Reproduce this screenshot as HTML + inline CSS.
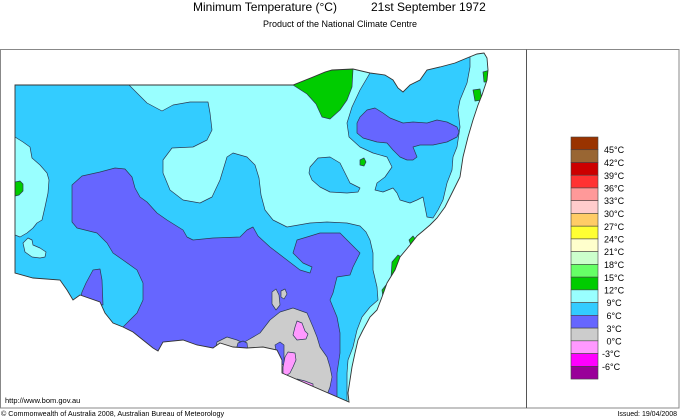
<!DOCTYPE html>
<html><head><meta charset="utf-8"><style>
html,body{margin:0;padding:0;background:#fff;}
svg{display:block;font-family:"Liberation Sans",Arial,sans-serif;}
</style></head><body>
<svg width="680" height="420" viewBox="0 0 680 420" xmlns="http://www.w3.org/2000/svg">
<defs>
<clipPath id="nsw">
<polygon id="o" points="15,85 293,85 303,81 313,77 325,72 332,70 353,69 370,73 385,75 393,80 398,88 403,92 410,85 420,80 427,70 440,67 455,63 467,58 477,54 484,53 487,58 488,70 487,80 482,95 478,105 473,120 468,137 463,157 460,177 452,193 445,207 437,218 430,225 423,231 417,236 410,245 400,257 395,270 387,283 382,297 377,310 370,317 363,330 358,340 355,353 352,367 350,380 348,393 349,402 282,373 282,360 277,350 263,347 247,348 233,347 220,343 213,348 197,345 183,340 163,342 158,351 153,348 143,340 133,332 123,327 113,323 105,313 100,302 80,295 73,300 67,290 60,280 33,278 15,273"/>
</clipPath>
</defs>
<!-- titles -->
<text x="193" y="11" font-size="12" fill="#000">Minimum Temperature (°C)</text>
<text x="371" y="11" font-size="12" fill="#000">21st September 1972</text>
<text x="340" y="27" font-size="9" text-anchor="middle" fill="#000">Product of the National Climate Centre</text>
<!-- frame -->
<rect x="0.5" y="49.5" width="678.5" height="358.5" fill="none" stroke="#888" stroke-width="1"/>
<line x1="526.5" y1="49.5" x2="526.5" y2="408" stroke="#555" stroke-width="1"/>
<!-- map -->
<g clip-path="url(#nsw)" stroke="#2b3b55" stroke-width="0.7" stroke-linejoin="round">
<rect x="0" y="40" width="520" height="380" fill="#33ccff" stroke="none"/>
<!-- west light cyan -->
<polygon fill="#99ffff" points="5,137 15,137 23,142 30,147 32,158 40,165 47,173 49,180 48,193 45,207 42,220 37,223 33,228 27,233 20,237 15,235 5,235"/>
<polygon fill="#99ffff" points="23,243 28,238 32,240 33,245 40,248 46,252 45,257 40,258 32,257 25,252"/>
<!-- central / eastern light cyan -->
<polygon fill="#99ffff" points="129,60 129,85 137,93 147,103 162,111 173,105 190,102 208,102 210,113 212,130 207,140 193,147 172,148 163,160 163,173 170,190 183,200 200,203 212,197 220,180 227,157 233,153 247,157 255,165 259,178 261,195 265,210 273,220 287,227 310,223 327,222 347,223 360,226 366,232 370,240 373,253 373,270 377,287 378,300 370,307 362,317 357,330 353,347 348,360 347,373 347,387 347,410 520,410 520,40 129,40"/>
<!-- NE cyan -->
<polygon fill="#33ccff" points="370,40 370,73 360,90 352,107 347,123 349,137 360,147 373,153 387,157 392,167 385,177 377,183 375,190 383,192 393,188 397,193 400,200 410,203 417,200 423,197 425,207 427,217 433,218 438,210 443,200 447,183 452,170 453,157 457,147 460,127 458,110 460,100 467,83 470,67 470,40"/>
<!-- central cyan island -->
<polygon fill="#33ccff" points="310,167 318,158 330,157 340,163 345,173 350,183 360,188 358,192 347,193 330,192 320,187 312,180 309,173"/>
<!-- NE purple -->
<polygon fill="#6666ff" points="357,123 360,117 367,110 375,108 383,113 390,118 403,123 413,122 427,123 437,120 447,122 457,127 459,132 457,137 447,142 433,145 420,145 413,147 417,157 413,160 407,160 400,157 393,150 387,143 377,142 363,138 357,133"/>
<!-- main purple -->
<polygon fill="#6666ff" points="72,185 82,176 100,172 115,168 125,169 132,177 135,188 140,197 147,202 157,213 167,220 183,230 187,237 193,240 213,238 240,237 247,230 253,227 258,236 270,247 287,260 300,270 310,273 312,267 303,263 293,253 297,240 307,237 320,233 340,233 350,243 360,253 353,267 350,275 337,277 333,293 330,300 337,317 340,333 340,353 337,373 337,415 120,365 123,327 137,313 143,300 143,283 137,270 123,260 113,253 107,243 97,233 77,228 72,222"/>
<polygon fill="#6666ff" points="80,300 82,292 86,283 93,270 100,269 102,280 103,305"/>
<!-- gray -->
<polygon fill="#cccccc" points="215,352 217,342 227,337 237,340 243,343 248,340 260,333 270,320 280,312 293,308 307,313 310,320 313,327 317,337 320,347 327,357 330,367 332,377 330,387 327,395 333,412 215,412"/>
<polygon fill="#cccccc" points="272,292 276,289 279,295 280,305 276,310 272,304"/>
<polygon fill="#cccccc" points="281,291 285,289 287,294 284,299 281,297"/>
<polygon fill="#6666ff" points="236,350 238,343 243,341 247,343 248,352"/>
<polygon fill="#6666ff" points="275,345 280,342 284,345 284,365 278,362"/>
<!-- pink -->
<polygon fill="#ff99ff" points="297,321 302,323 305,331 308,334 306,339 297,340 293,335 295,327"/>
<polygon fill="#ff99ff" points="288,352 295,353 296,360 293,367 290,373 283,378 283,367 285,357"/>
<polygon fill="#ff99ff" points="297,379 305,381 313,384 313,389 300,388"/>
<!-- green -->
<polygon fill="#00cc00" points="293,85 303,81 313,77 325,72 332,70 353,69 352,87 347,100 340,110 330,119 322,117 316,104 307,94"/>
<polygon fill="#00cc00" points="15,182 20,181 23,184 23,191 19,195 15,196"/>
<polygon fill="#00cc00" points="360,160 364,158 366,162 364,166 360,165"/>
<polygon fill="#00cc00" points="483,72 490,70 490,82 484,82"/>
<polygon fill="#00cc00" points="473,90 480,89 482,100 475,101"/>
<polygon fill="#00cc00" points="409,240 413,236 416,240 412,248"/>
<polygon fill="#00cc00" points="392,262 398,255 403,258 398,272 391,278"/>
<polygon fill="#00cc00" points="382,290 386,285 388,292 383,298"/>
</g>
<use href="#o" fill="none" stroke="#333" stroke-width="0.9"/>
<!-- legend -->
<g stroke="#444" stroke-width="0.6">
<rect x="571" y="137" width="27" height="12.74" fill="#993300"/>
<rect x="571" y="149.74" width="27" height="12.74" fill="#996633"/>
<rect x="571" y="162.48" width="27" height="12.74" fill="#cc0000"/>
<rect x="571" y="175.22" width="27" height="12.74" fill="#ff3333"/>
<rect x="571" y="187.96" width="27" height="12.74" fill="#ff9999"/>
<rect x="571" y="200.7" width="27" height="12.74" fill="#ffcccc"/>
<rect x="571" y="213.44" width="27" height="12.74" fill="#ffcc66"/>
<rect x="571" y="226.18" width="27" height="12.74" fill="#ffff33"/>
<rect x="571" y="238.92" width="27" height="12.74" fill="#ffffcc"/>
<rect x="571" y="251.66" width="27" height="12.74" fill="#ccffcc"/>
<rect x="571" y="264.4" width="27" height="12.74" fill="#66ff66"/>
<rect x="571" y="277.14" width="27" height="12.74" fill="#00cc00"/>
<rect x="571" y="289.88" width="27" height="12.74" fill="#99ffff"/>
<rect x="571" y="302.62" width="27" height="12.74" fill="#33ccff"/>
<rect x="571" y="315.36" width="27" height="12.74" fill="#6666ff"/>
<rect x="571" y="328.1" width="27" height="12.74" fill="#cccccc"/>
<rect x="571" y="340.84" width="27" height="12.74" fill="#ff99ff"/>
<rect x="571" y="353.58" width="27" height="12.74" fill="#ff00ff"/>
<rect x="571" y="366.32" width="27" height="12.74" fill="#990099"/>
</g>
<g font-size="9" fill="#000">
<text x="604" y="153">45°C</text>
<text x="604" y="166">42°C</text>
<text x="604" y="179">39°C</text>
<text x="604" y="191.5">36°C</text>
<text x="604" y="204">33°C</text>
<text x="604" y="217">30°C</text>
<text x="604" y="230">27°C</text>
<text x="604" y="242.5">24°C</text>
<text x="604" y="255">21°C</text>
<text x="604" y="268">18°C</text>
<text x="604" y="281">15°C</text>
<text x="604" y="293.5">12°C</text>
<text x="606.5" y="306">9°C</text>
<text x="606.5" y="319">6°C</text>
<text x="606.5" y="332">3°C</text>
<text x="606.5" y="344.5">0°C</text>
<text x="602" y="357">-3°C</text>
<text x="602" y="370">-6°C</text>
</g>
<!-- footer -->
<text x="5" y="403" font-size="7.5" fill="#000">http://www.bom.gov.au</text>
<text x="1" y="416" font-size="7.2" fill="#000">© Commonwealth of Australia 2008, Australian Bureau of Meteorology</text>
<text x="677" y="416" font-size="7" text-anchor="end" fill="#000">Issued: 19/04/2008</text>
</svg>
</body></html>
